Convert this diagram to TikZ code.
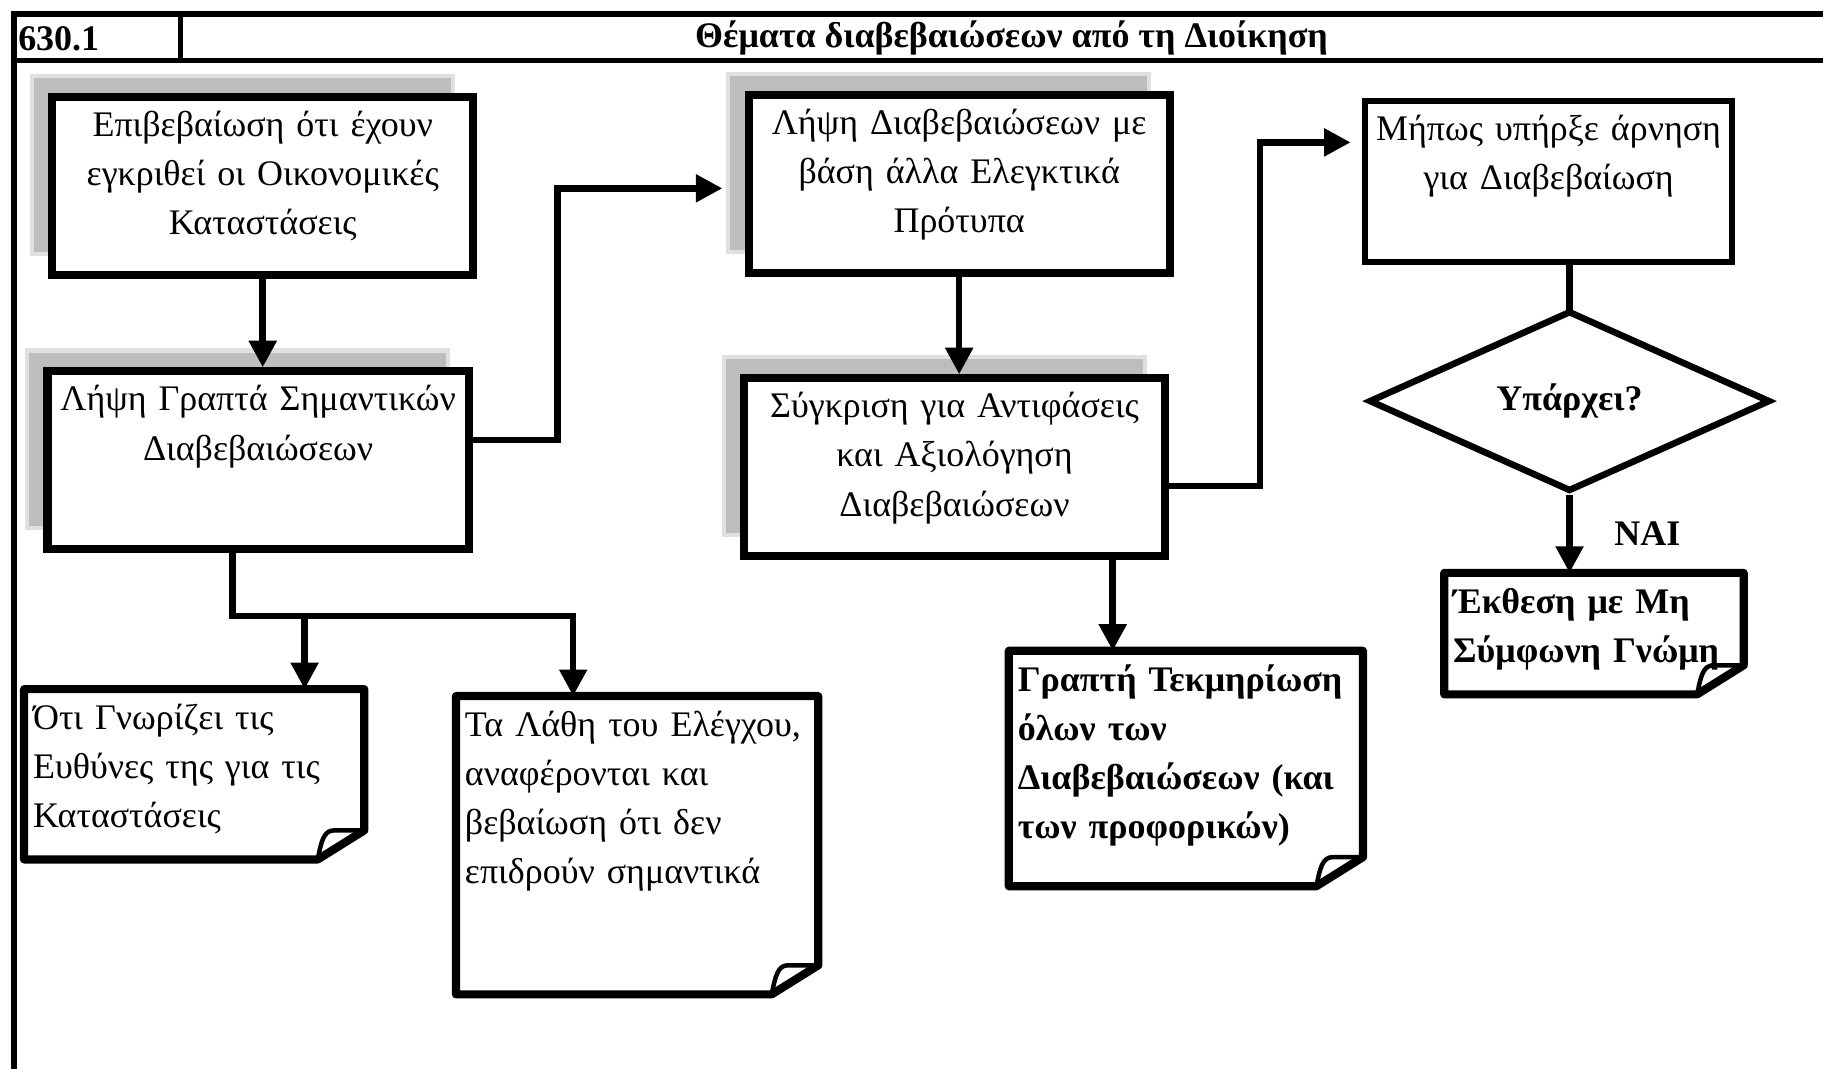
\documentclass[tikz,border=0pt]{standalone}
\usepackage{fontspec}
\setmainfont{Liberation Serif}
\usetikzlibrary{shapes.geometric,shadows,arrows.meta,positioning}

\begin{document}
\begin{tikzpicture}[x=0.01cm,y=-0.01cm]
  \tikzstyle{every node}=[font=\fontsize{8.8}{12}\selectfont]
  \tikzstyle{heading}=[font=\fontsize{8.8}{12}\selectfont\bfseries]
  \tikzstyle{frame}=[line width=1.3pt]
  \tikzstyle{stage}=[draw, fill=white, line width=2pt, text width=3.54cm,
  inner xsep=0.04cm, inner ysep=0.12cm, text height=0.22cm, text depth=1.07cm,
  align=center, drop shadow={shadow xshift=-1.75mm, shadow yshift=1.8mm,
  opacity=1, fill=black!26, draw=black!12, line width=1pt}]
  \tikzstyle{query}=[draw, fill=white, line width=1.5pt, text width=3.07cm,
  inner xsep=0.04cm, inner ysep=0.12cm, text height=0.22cm, text depth=0.92cm,
  align=center]
  \tikzstyle{decision}=[diamond, draw, line width=1.6pt, minimum width=3.45cm,
  minimum height=1.05cm, inner sep=0pt, heading]
  \tikzstyle{note}=[align=left, inner xsep=0.07cm, inner ysep=0.12cm,
  text height=0.22cm,
  append after command={\pgfextra{
    \draw[line width=2pt, line join=round]
      (\tikzlastnode.north west) -- (\tikzlastnode.north east)
      -- ([yshift=2.5mm]\tikzlastnode.south east)
      -- ([xshift=-4mm]\tikzlastnode.south east)
      -- (\tikzlastnode.south west) -- cycle;
    \draw[line width=1.1pt]
      ([xshift=-4mm]\tikzlastnode.south east)
      .. controls ([xshift=-3.7mm,yshift=1.5mm]\tikzlastnode.south east)
      and ([xshift=-3.5mm,yshift=2.5mm]\tikzlastnode.south east)
      .. ([xshift=-2.6mm,yshift=2.5mm]\tikzlastnode.south east)
      -- ([yshift=2.5mm]\tikzlastnode.south east);
  }}]
  \tikzstyle{flow}=[line width=1.6pt, -{Triangle[width=6.5pt,length=6.5pt]}]
  \tikzstyle{link}=[line width=1.6pt, line cap=rect]

  \path[use as bounding box] (0,0) rectangle (1568,919);
  \clip (0,0) rectangle (1568,919);

  % header
  \draw[frame] (12,12) rectangle (1620,960);
  \draw[frame] (12,52) -- (1620,52);
  \draw[frame] (155,12) -- (155,52);
  \node[heading, anchor=west, inner sep=0pt] (code) at (15,33) {630.1};
  \node[heading] (title) at (870,33) {Θέματα διαβεβαιώσεων από τη Διοίκηση};

  % steps
  \node[stage] (confirm) at (226,160)
  {Επιβεβαίωση ότι έχουν\\εγκριθεί οι Οικονομικές\\Καταστάσεις};
  \node[stage] (written) at (222,396)
  {Λήψη Γραπτά Σημαντικών\\Διαβεβαιώσεων};
  \node[stage] (other) at (825,158)
  {Λήψη Διαβεβαιώσεων με\\βάση άλλα Ελεγκτικά\\Πρότυπα};
  \node[stage] (compare) at (821,402)
  {Σύγκριση για Αντιφάσεις\\και Αξιολόγηση\\Διαβεβαιώσεων};
  \node[query] (denial) at (1332,156)
  {Μήπως υπήρξε άρνηση\\για Διαβεβαίωση};
  \node[decision] (exists) at (1350,345) {Υπάρχει?};

  % notes
  \node[note, heading, text width=2.42cm, text depth=0.57cm] (adverse)
  at (1371,545) {Έκθεση με Μη\\Σύμφωνη Γνώμη};
  \node[note, text width=2.77cm, text depth=0.99cm] (duties) at (167,666)
  {Ότι Γνωρίζει τις\\Ευθύνες της για τις\\Καταστάσεις};
  \node[note, text width=2.96cm, text depth=2.09cm] (errors) at (548,727)
  {Τα Λάθη του Ελέγχου,\\αναφέρονται και\\βεβαίωση ότι δεν\\επιδρούν σημαντικά};
  \node[note, heading, text width=2.89cm, text depth=1.55cm] (record)
  at (1020,661)
  {Γραπτή Τεκμηρίωση\\όλων των\\Διαβεβαιώσεων (και\\των προφορικών)};

  % connectors
  \coordinate (dutytap) at (262,530);
  \coordinate (errortap) at (493,530);
  \draw[flow] (confirm.south) -- (confirm.south |- written.north);
  \draw[flow] ([yshift=1.75mm]written.east) -- ++(0.73cm,0)
  |- ([xshift=-1.9mm,yshift=-0.4mm]other.west);
  \draw[flow] (other.south) -- (other.south |- compare.north);
  \draw[flow] ([yshift=-1.6mm]compare.east) -- ++(0.78cm,0)
  |- ([xshift=-1mm,yshift=3.35mm]denial.west);
  \draw[link] (exists.north |- denial.south) -- (exists.north);
  \draw[flow] (exists.south) -- (exists.south |- adverse.north)
  node[midway, right=0.24cm, heading] {ΝΑΙ};
  \draw[link] ([xshift=-2.2mm]written.south) |- (errortap);
  \draw[flow] (dutytap) -- (dutytap |- duties.north);
  \draw[flow] (errortap) -- (errortap |- errors.north);
  \draw[flow] ([xshift=13.6mm]compare.south)
  -- ([xshift=13.6mm]compare.south |- record.north);
\end{tikzpicture}
\end{document}
